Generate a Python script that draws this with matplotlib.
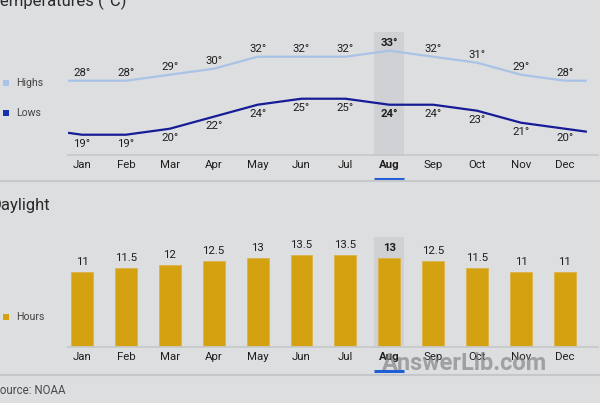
import numpy as np
import matplotlib
matplotlib.use("Agg")
import matplotlib.pyplot as plt
from matplotlib.lines import Line2D
from matplotlib.patches import Rectangle
import matplotlib.transforms as mtransforms

plt.rcParams['font.family'] = ['Roboto', 'DejaVu Sans']

months = ["Jan", "Feb", "Mar", "Apr", "May", "Jun", "Jul", "Aug", "Sep", "Oct", "Nov", "Dec"]
highs = [28, 28, 29, 30, 32, 32, 32, 33, 32, 31, 29, 28]
lows = [19, 19, 20, 22, 24, 25, 25, 24, 24, 23, 21, 20]
daylight = [11, 11.5, 12, 12.5, 13, 13.5, 13.5, 13, 12.5, 11.5, 11, 11]
daylight_labels = ["11", "11.5", "12", "12.5", "13", "13.5", "13.5", "13", "12.5", "11.5", "11", "11"]
selected = 7  # Aug

W, H = 600, 403
BG = '#dddee0'
BAND = '#d0d1d4'
HIGH_C = '#a9c3e6'
LOW_C = '#161c96'
BAR_C = '#d4a211'
TXT = '#1e1e1e'

def fx(px):
    return px / W

def fy(py):
    return 1 - py / H

fig = plt.figure(figsize=(W / 100, H / 100), dpi=100, facecolor=BG)

x = np.arange(len(months))
XL = ((68 - 82) / 43.9, (598 - 82) / 43.9)

def setup(ax, ylim, top_px, bottom_px):
    ax.set_facecolor(BG)
    ax.set_xlim(*XL)
    ax.set_ylim(*ylim)
    for s in ['top', 'left', 'right']:
        ax.spines[s].set_visible(False)
    ax.spines['bottom'].set_color('#c8c9cc')
    ax.spines['bottom'].set_linewidth(1.3)
    ax.set_xticks([])
    ax.set_yticks([])
    ax.axvspan(selected - 0.34, selected + 0.34, color=BAND, zorder=0, lw=0)
    for i, m in enumerate(months):
        ax.annotate(m, xy=(i, 0), xycoords=('data', 'axes fraction'),
                    xytext=(0, -7.5), textcoords='offset points',
                    ha='center', va='center', fontsize=8.2, color=TXT,
                    fontweight='bold' if i == selected else 'normal')
    trans = mtransforms.blended_transform_factory(ax.transData, ax.transAxes)
    yu = -(23.5) / (bottom_px - top_px)
    ax.add_line(Line2D([selected - 0.34, selected + 0.34], [yu, yu], transform=trans,
                       color='#1f5ed4', lw=2.2, clip_on=False, solid_capstyle='butt'))

# ---------- Temperatures ----------
ax1 = fig.add_axes([fx(68), fy(155), (598 - 68) / W, (155 - 32) / H])
setup(ax1, (15.62, 36.12), 32, 155)

def extended(vals):
    ext_x = np.concatenate([[-1], x, [len(x)]])
    ext_v = np.concatenate([[vals[-1]], vals, [vals[0]]])
    xs = np.concatenate([[XL[0]], x, [len(x) - 0.5]])
    return xs, np.interp(xs, ext_x, ext_v)

xs, ys = extended(highs)
ax1.plot(xs, ys, color=HIGH_C, lw=1.6, solid_capstyle='butt', zorder=2)
xs, ys = extended(lows)
ax1.plot(xs, ys, color=LOW_C, lw=1.6, solid_capstyle='butt', zorder=2)

for i in range(len(months)):
    w = 'bold' if i == selected else 'normal'
    ax1.annotate(f"{highs[i]}°", xy=(i, highs[i]), xytext=(0, 5.6), textcoords='offset points',
                 ha='center', va='center', fontsize=8.2, color=TXT, fontweight=w)
    ax1.annotate(f"{lows[i]}°", xy=(i, lows[i]), xytext=(0, -6.4), textcoords='offset points',
                 ha='center', va='center', fontsize=8.2, color=TXT, fontweight=w)

# ---------- Daylight ----------
ax2 = fig.add_axes([fx(68), fy(347), (598 - 68) / W, (347 - 237) / H])
setup(ax2, (0, 16.06), 237, 347)
ax2.bar(x, daylight, width=0.5, color=BAR_C, edgecolor='#dcb14a', linewidth=0.6, zorder=2)
for i in range(len(months)):
    ax2.annotate(daylight_labels[i], xy=(i, daylight[i]), xytext=(0, 7.2), textcoords='offset points',
                 ha='center', va='center', fontsize=8.2, color=TXT,
                 fontweight='bold' if i == selected else 'normal')

# ---------- separators ----------
for yp in (180.5, 374.5):
    fig.add_artist(Line2D([0, 1], [fy(yp), fy(yp)], transform=fig.transFigure,
                          color='#c6c7ca', lw=1.5))

# ---------- titles ----------
fig.text(fx(-9.5), fy(6), "Temperatures (°C)", fontsize=12, color='#2a2a2a',
         ha='left', va='baseline')
fig.text(fx(-9.5), fy(210), "Daylight", fontsize=12, color='#2a2a2a',
         ha='left', va='baseline')
fig.text(fx(-7), fy(394.5), "Source: NOAA", fontsize=8.3, color='#4a4a4a',
         ha='left', va='baseline')

# ---------- legends ----------
legend_items = [("Highs", HIGH_C, 83), ("Lows", '#1432b0', 113), ("Hours", BAR_C, 317)]
for label, col, yp in legend_items:
    fig.add_artist(Rectangle((fx(3), fy(yp + 3)), 6 / W, 6 / H, transform=fig.transFigure,
                             facecolor=col, edgecolor='none'))
    fig.text(fx(16), fy(yp), label, fontsize=7.6, color='#444444', ha='left', va='center')

# ---------- watermark ----------
fig.text(fx(465), fy(364), "AnswerLib.com", fontsize=17, fontweight='bold',
         color='#7f7f7f', alpha=0.65, ha='center', va='center')

fig.savefig("out.png", dpi=100, facecolor=BG)
